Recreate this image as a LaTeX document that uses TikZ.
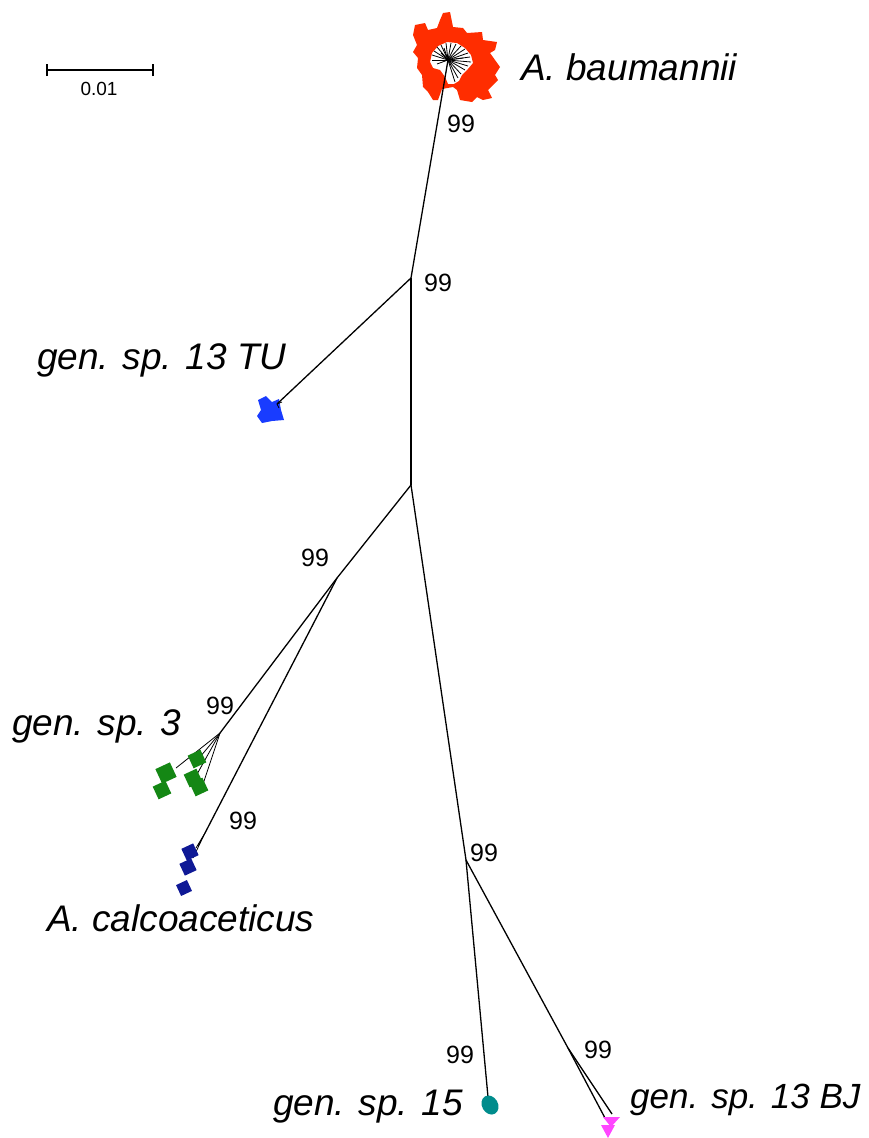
\documentclass[tikz,border=0pt]{standalone}
\usepackage{fontspec}
\setmainfont{Liberation Sans}
\usetikzlibrary{calc}
\definecolor{abred}{RGB}{255,45,0}
\definecolor{tublue}{RGB}{25,60,255}
\definecolor{calblue}{RGB}{15,25,150}
\definecolor{gsgreen}{RGB}{20,135,20}
\definecolor{gsteal}{RGB}{0,140,140}
\definecolor{bjpink}{RGB}{255,70,255}
\tikzset{
  branch/.style={line width=1.3pt, black},
  twig/.style={line width=0.8pt, black},
  taxon/.style={anchor=base west, inner sep=0pt, font=\fontsize{37}{40}\selectfont\itshape},
  boot/.style={anchor=base west, inner sep=0pt, font=\fontsize{25}{27}\selectfont},
  scalelab/.style={anchor=center, inner sep=0pt, font=\fontsize{19}{21}\selectfont},
}
% a tilted square leaf marker: colour, centre, half side
\newcommand{\leafsq}[3]{\fill[#1, rotate around={25:(#2)}] ($(#2)+(-#3,-#3)$) rectangle ($(#2)+(#3,#3)$);}
\begin{document}
\begin{tikzpicture}[x=1pt,y=-1pt]
\useasboundingbox (0,0) rectangle (868,1138);

% scale bar
\coordinate (sbl) at (47,70);
\coordinate (sbr) at (153,70);
\draw[line width=1.3pt] (sbl) -- (sbr);
\draw[line width=1.3pt] ([yshift=-6pt]sbl) -- ([yshift=6pt]sbl);
\draw[line width=1.3pt] ([yshift=-6pt]sbr) -- ([yshift=6pt]sbr);
\node[scalelab] (sblab) at (99,89) {0.01};

% A. baumannii cluster
\fill[abred, even odd rule]
  (443,13) -- (450,12) -- (453,27) -- (463,28) -- (467,33) -- (482,32) -- (483,40)
  -- (497,42) -- (495,50) -- (490,53) -- (500,67) -- (495,75) -- (498,80)
  -- (488,90) -- (492,98) -- (483,100) -- (477,97) -- (472,102) -- (460,100)
  -- (457,90) -- (453,87) -- (442,89) -- (438,100) -- (433,100) -- (428,92)
  -- (423,87) -- (422,75) -- (417,68) -- (418,58) -- (413,52) -- (417,45)
  -- (413,35) -- (415,25) -- (425,23) -- (428,30) -- (437,28) -- (440,20) -- cycle
  (430,62) -- (432,53) -- (438,46) -- (447,42) -- (457,43) -- (465,48) -- (471,55)
  -- (473,63) -- (468,69) -- (462,75) -- (459,81) -- (454,84) -- (448,84)
  -- (445,77) -- (440,70) -- (433,68) -- cycle;
\coordinate (ab) at (448,60);
\foreach \px/\py in {432/60,432/55,434/51,437/47,441/45,446/43,451/43,456/44,
                     461/46,465/49,468/53,470/57,471/62,468/66,465/70,461/74,
                     458/78,455/82,437/64,441/53,444/48,463/58}
  \draw[line width=0.8pt] (ab) -- (\px,\py);

% internal nodes
\coordinate (n1) at (411,278);
\coordinate (n2) at (411,485);
\coordinate (n3) at (337,578);
\coordinate (n4) at (466,860);
\coordinate (n5) at (220,733);
\coordinate (n6) at (205,833);
\coordinate (n7) at (568,1048);

% backbone
\draw[branch] (ab) -- (n1);
\draw[branch] (n1) -- (n2);
\draw[branch] (n2) -- (n3);
\draw[branch] (n2) -- (n4);
\draw[branch] (n3) -- (n5);
\draw[branch] (n3) -- (n6);
\draw[branch] (n4) -- (n7);

% gen. sp. 13 TU
\coordinate (tu) at (277,404);
\fill[tublue] (258,400) -- (266,396) -- (272,402) -- (279,399) -- (281,410)
  -- (284,420) -- (272,421) -- (262,423) -- (257,416) -- (261,410) -- cycle;
\draw[branch] (n1) -- (tu);
\draw[line width=0.8pt] (tu) -- (282,402) (tu) -- (279,408);

% gen. sp. 3
\coordinate (g1) at (176,768);
\coordinate (g2) at (200,757);
\coordinate (g3) at (196,776);
\coordinate (g4) at (203,784);
\foreach \g in {g1,g2,g3,g4} \draw[twig] (n5) -- (\g);
\leafsq{gsgreen}{166,773}{8}
\leafsq{gsgreen}{162,790}{7}
\leafsq{gsgreen}{197,759}{7}
\leafsq{gsgreen}{193,778}{7}
\leafsq{gsgreen}{199,787}{7}

% A. calcoaceticus
\coordinate (c1) at (196,848);
\coordinate (c2) at (193,858);
\coordinate (c3) at (198,846);
\foreach \c in {c1,c2,c3} \draw[twig] (n6) -- (\c);
\leafsq{calblue}{190,852}{6.5}
\leafsq{calblue}{188,867}{6.5}
\leafsq{calblue}{184,888}{6}

% gen. sp. 15
\coordinate (s15) at (488,1097);
\draw[branch] (n4) -- (s15);
\fill[gsteal, rotate around={30:(490,1105)}] (490,1105) ellipse [x radius=8, y radius=10];

% gen. sp. 13 BJ
\coordinate (bj1) at (612,1114);
\coordinate (bj2) at (605,1118);
\draw[branch] (n7) -- (bj1);
\draw[branch] (n7) -- (bj2);
\fill[bjpink] (603,1117) -- (620,1117) -- (611,1127) -- cycle;
\fill[bjpink] (601,1125) -- (615,1125) -- (608,1138) -- cycle;

% bootstrap values
\node[boot] (b1) at (447,132) {99};
\node[boot] (b2) at (424,291) {99};
\node[boot] (b3) at (301,566) {99};
\node[boot] (b4) at (206,714) {99};
\node[boot] (b5) at (229,829) {99};
\node[boot] (b6) at (470,861) {99};
\node[boot] (b7) at (446,1063) {99};
\node[boot] (b8) at (584,1058) {99};

% taxon labels
\node[taxon] (lab1) at (521,80) {A. baumannii};
\node[taxon] (lab2) at (37,369) {gen. sp. 13 TU};
\node[taxon] (lab3) at (12,735) {gen. sp. 3};
\node[taxon] (lab4) at (47,931) {A. calcoaceticus};
\node[taxon] (lab5) at (273,1115) {gen. sp. 15};
\node[taxon, font=\fontsize{35}{38}\selectfont\itshape] (lab6) at (630,1108) {gen. sp. 13 BJ};
\end{tikzpicture}
\end{document}
